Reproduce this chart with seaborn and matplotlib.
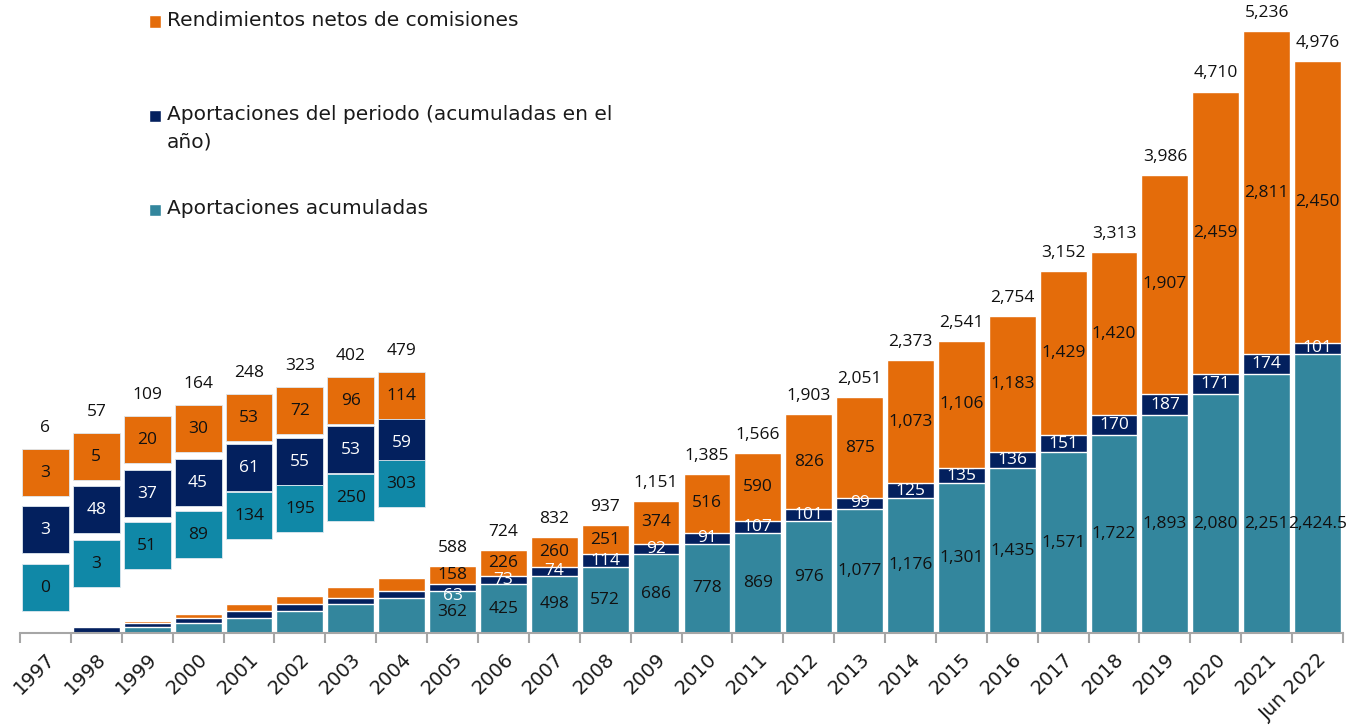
import matplotlib
matplotlib.use("Agg")
import matplotlib.pyplot as plt
from matplotlib.patches import Rectangle
import seaborn as sns
import pandas as pd

# datos (millones)
years = [str(y) for y in range(1997, 2022)] + ["Jun 2022"]
acumuladas = [0, 3, 51, 89, 134, 195, 250, 303, 362, 425, 498, 572, 686, 778, 869,
              976, 1077, 1176, 1301, 1435, 1571, 1722, 1893, 2080, 2251, 2424.5]
periodo = [3, 48, 37, 45, 61, 55, 53, 59, 63, 73, 74, 114, 92, 91, 107,
           101, 99, 125, 135, 136, 151, 170, 187, 171, 174, 101]
rendimientos = [3, 5, 20, 30, 53, 72, 96, 114, 158, 226, 260, 251, 374, 516, 590,
                826, 875, 1073, 1106, 1183, 1429, 1420, 1907, 2459, 2811, 2450]
totales = [6, 57, 109, 164, 248, 323, 402, 479, 588, 724, 832, 937, 1151, 1385, 1566,
           1903, 2051, 2373, 2541, 2754, 3152, 3313, 3986, 4710, 5236, 4976]

labels = ["Rendimientos netos de comisiones",
          "Aportaciones del periodo (acumuladas en el\naño)",
          "Aportaciones acumuladas"]

# layout of the floating label boxes for the first years (top of each box)
n_callout = 8
box_h = 410
top_rend = [1600, 1740, 1887, 1983, 2079, 2140, 2227, 2270]
top_per = [1105, 1279, 1418, 1513, 1644, 1696, 1800, 1861]
top_acum = [600, 809, 965, 1061, 1226, 1287, 1383, 1505]
teal_label_cap = 950
navy_nudge = {8: -70}

orange = "#E46C0A"
navy = "#03205E"
teal = "#33869D"
teal_box = "#1088A7"
txt = "#111111"

def fmt(v):
    return f"{v:,.0f}" if float(v).is_integer() else f"{v:,.1f}"

df = pd.DataFrame({"year": years, "acum": acumuladas, "per": periodo, "rend": rendimientos})
df["c2"] = df["acum"] + df["per"]
df["c3"] = df["c2"] + df["rend"]

sns.set_theme(style="white")
plt.rcParams["font.family"] = ["Open Sans", "DejaVu Sans"]

W, H = 1367, 725
fig = plt.figure(figsize=(W / 100, H / 100), dpi=100)
ax = fig.add_axes([20 / W, 92 / H, 1323 / W, 633 / H])

sns.barplot(data=df, x="year", y="c3", order=years, color=orange, saturation=1, width=0.92, ax=ax)
sns.barplot(data=df, x="year", y="c2", order=years, color=navy, saturation=1, width=0.92, ax=ax)
sns.barplot(data=df, x="year", y="acum", order=years, color=teal, saturation=1, width=0.92, ax=ax)

ax.set_xlim(-0.5, len(years) - 0.5)
ax.set_ylim(0, 5506)
ax.set_xlabel("")
ax.set_ylabel("")
ax.set_yticks([])
for s in ["left", "right", "top"]:
    ax.spines[s].set_visible(False)
ax.spines["bottom"].set_color("#A6A6A6")
ax.spines["bottom"].set_linewidth(1.5)
ax.set_xticks([i - 0.5 for i in range(len(years) + 1)], minor=True)
ax.tick_params(axis="x", which="minor", length=7, width=1.5, color="#A6A6A6", bottom=True)
ax.tick_params(axis="x", which="major", length=0, pad=12)
ax.set_xticks(range(len(years)))
ax.set_xticklabels(years, rotation=45, ha="right", va="top", rotation_mode="anchor",
                   fontsize=14, color="#1a1a1a", family="DejaVu Sans")

fs = 12.5
# labels inside bars
for i in range(n_callout, len(years)):
    a, p, r = acumuladas[i], periodo[i], rendimientos[i]
    ax.text(i, min(a / 2, teal_label_cap), fmt(a), ha="center", va="center", fontsize=fs, color=txt)
    ax.text(i, a + p / 2 + navy_nudge.get(i, 0), fmt(p), ha="center", va="center", fontsize=fs, color="white")
    ax.text(i, a + p + r / 2, fmt(r), ha="center", va="center", fontsize=fs, color=txt)
    ax.annotate(fmt(totales[i]), (i, df["c3"][i]), xytext=(0, 13), textcoords="offset points",
                ha="center", va="center", fontsize=fs, color=txt)

# floating boxes for early years
for i in range(n_callout):
    for top, val, col, tc in [(top_rend[i], rendimientos[i], orange, txt),
                              (top_per[i], periodo[i], navy, "white"),
                              (top_acum[i], acumuladas[i], teal_box, txt)]:
        ax.add_patch(Rectangle((i - 0.46, top - box_h), 0.92, box_h, facecolor=col,
                               edgecolor="#dfe8ef", linewidth=0.6, zorder=3))
        ax.text(i, top - box_h / 2, fmt(val), ha="center", va="center", fontsize=fs, color=tc, zorder=4)
    ax.annotate(fmt(totales[i]), (i, top_rend[i]), xytext=(0, 15), textcoords="offset points",
                ha="center", va="center", fontsize=fs, color=txt)

# legend
for (yc, col, lab) in [(21.5, orange, labels[0]), (116, navy, labels[1]), (210, teal, labels[2])]:
    fig.patches.append(Rectangle((149 / W, 1 - (yc + 6) / H), 12 / W, 12 / H,
                                 facecolor=col, transform=fig.transFigure, figure=fig))
    fig.text(167 / W, 1 - (yc - 11) / H, lab, ha="left", va="top", fontsize=14.5,
             color="#1a1a1a", linespacing=1.55, family="DejaVu Sans")

fig.savefig("out.png", dpi=100)
